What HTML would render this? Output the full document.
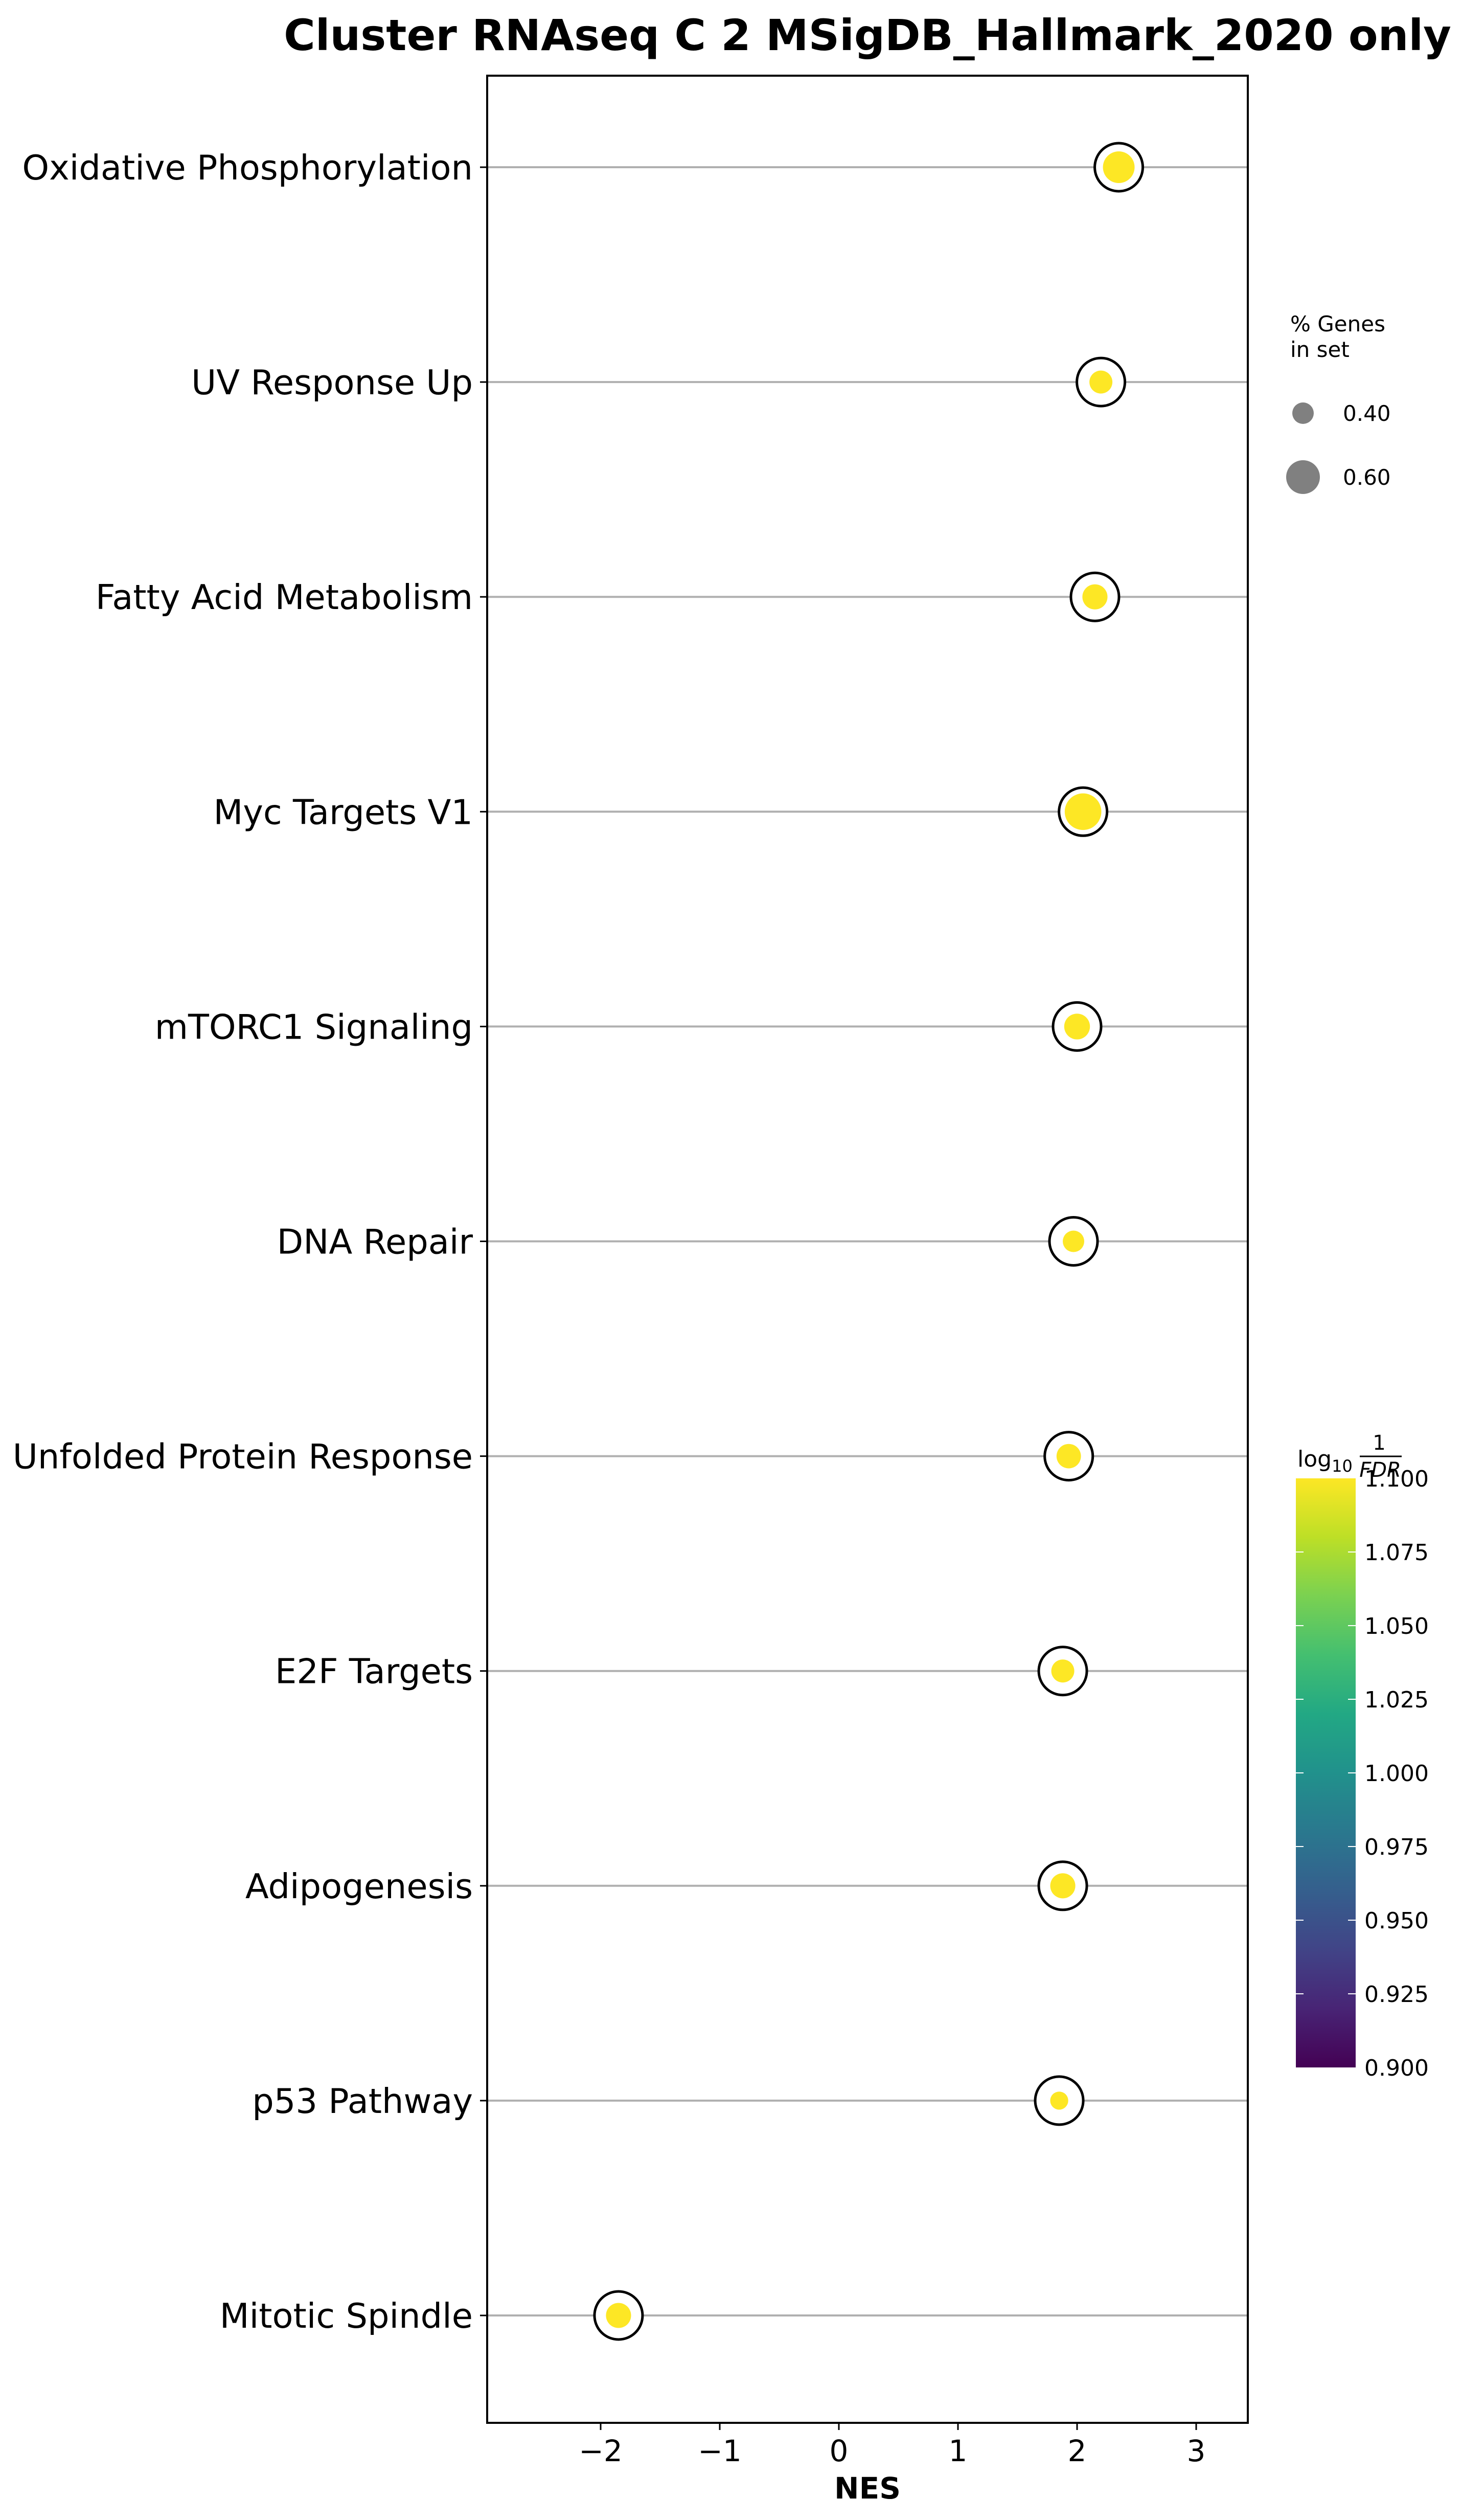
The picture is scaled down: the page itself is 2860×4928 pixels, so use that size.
<!DOCTYPE html>
<html><head><meta charset="utf-8"><style>
html,body{margin:0;padding:0;background:#fff;}
svg{display:block;font-family:"DejaVu Sans","Liberation Sans",sans-serif;}
</style></head><body>
<svg id="chart" width="2860" height="4928" viewBox="0 0 2860 4928" xmlns="http://www.w3.org/2000/svg">
<defs>
<linearGradient id="viridis" x1="0" y1="1" x2="0" y2="0">
<stop offset="0" stop-color="#440154"/><stop offset="0.1" stop-color="#482475"/><stop offset="0.2" stop-color="#414487"/><stop offset="0.3" stop-color="#355f8d"/><stop offset="0.4" stop-color="#2a788e"/><stop offset="0.5" stop-color="#21918c"/><stop offset="0.6" stop-color="#22a884"/><stop offset="0.7" stop-color="#44bf70"/><stop offset="0.8" stop-color="#7ad151"/><stop offset="0.9" stop-color="#bddf26"/><stop offset="1" stop-color="#fde725"/>
</linearGradient>
</defs>
<text x="1697" y="98" font-size="84" font-weight="bold" text-anchor="middle">Cluster RNAseq C 2 MSigDB_Hallmark_2020 only</text>
<g id="plot"></g>
<rect x="953" y="148" width="1488" height="4590" fill="none" stroke="#000" stroke-width="4"/>
<text x="1697" y="4886" font-size="58" font-weight="bold" text-anchor="middle">NES</text>
<g>
<text x="2524" y="648" font-size="42">% Genes</text>
<text x="2524" y="698" font-size="42">in set</text>
<circle cx="2549" cy="808" r="21" fill="#808080"/>
<text x="2627" y="823" font-size="42">0.40</text>
<circle cx="2549" cy="933" r="33" fill="#808080"/>
<text x="2627" y="948" font-size="42">0.60</text>
</g>
<g>
<text x="2538" y="2868" font-size="44">log<tspan font-size="32" dy="10">10</tspan></text>
<text x="2698" y="2835" font-size="40" text-anchor="middle">1</text>
<line x1="2660" y1="2848" x2="2742" y2="2848" stroke="#000" stroke-width="3"/>
<text x="2700" y="2888" font-size="40" text-anchor="middle" font-style="italic">FDR</text>
<rect x="2535" y="2891" width="117" height="1152" fill="url(#viridis)"/>
<g id="cbticks"></g>
</g>
</svg>
<script>
const categories=["Oxidative Phosphorylation","UV Response Up","Fatty Acid Metabolism","Myc Targets V1","mTORC1 Signaling","DNA Repair","Unfolded Protein Response","E2F Targets","Adipogenesis","p53 Pathway","Mitotic Spindle"];
const nesValues=[2.35,2.2,2.15,2.05,2.0,1.97,1.93,1.88,1.88,1.85,-1.85];
const geneFraction=[0.56,0.42,0.45,0.66,0.46,0.40,0.44,0.42,0.45,0.36,0.45];
const xTicks=[-2,-1,0,1,2,3];
const xTickLabels=["\u22122","\u22121","0","1","2","3"];
const cbTicks=[0.900,0.925,0.950,0.975,1.000,1.025,1.050,1.075,1.100];

const NS="http://www.w3.org/2000/svg";
const xOf=v=>1641+v*233;
const yOf=i=>327+i*420.1;
const rOf=f=>Math.sqrt(Math.max(3240*f-855,20));
const cbY=v=>4043-(v-0.9)/0.2*1152;
function mk(tag,attrs,parent){const e=document.createElementNS(NS,tag);for(const k in attrs)e.setAttribute(k,attrs[k]);parent.appendChild(e);return e;}
const plot=document.getElementById('plot');
categories.forEach((c,i)=>{
  const y=yOf(i);
  const g=mk('line',{x1:953,x2:2441,y1:y,y2:y,stroke:'#b0b0b0','stroke-width':4},plot);
  
  
  const t=mk('line',{x1:939,x2:953,y1:y,y2:y,stroke:'#000','stroke-width':3},plot);
  
  
  const l=mk('text',{x:925,y:y+24,'font-size':67,'text-anchor':'end'},plot);
  l.textContent=c;
  
  
  const x=xOf(nesValues[i]);
  const ring=mk('circle',{cx:x,cy:y,r:47,fill:'#fff',stroke:'#000','stroke-width':5},plot);
  
  
  const d=mk('circle',{cx:x,cy:y,r:rOf(geneFraction[i]),fill:'#fde725'},plot);
  
  
});
xTicks.forEach((v,i)=>{
  const x=xOf(v);
  const t=mk('line',{x1:x,x2:x,y1:4738,y2:4752,stroke:'#000','stroke-width':3},plot);
  
  
  const l=mk('text',{x:x,y:4813,'font-size':58,'text-anchor':'middle'},plot);
  l.textContent=xTickLabels[i];
  
  
});
const cbg=document.getElementById('cbticks');
cbTicks.forEach(v=>{
  const y=cbY(v);
  if(v>0.9&&v<1.1){
    const a=mk('line',{x1:2535,x2:2550,y1:y,y2:y,stroke:'#fff','stroke-width':2},cbg);
    
    
    const b=mk('line',{x1:2637,x2:2652,y1:y,y2:y,stroke:'#fff','stroke-width':2},cbg);
    
    
  }
  const l=mk('text',{x:2669,y:y+16,'font-size':44},cbg);
  l.textContent=v.toFixed(3);
  
  
});
</script>
</body></html>
